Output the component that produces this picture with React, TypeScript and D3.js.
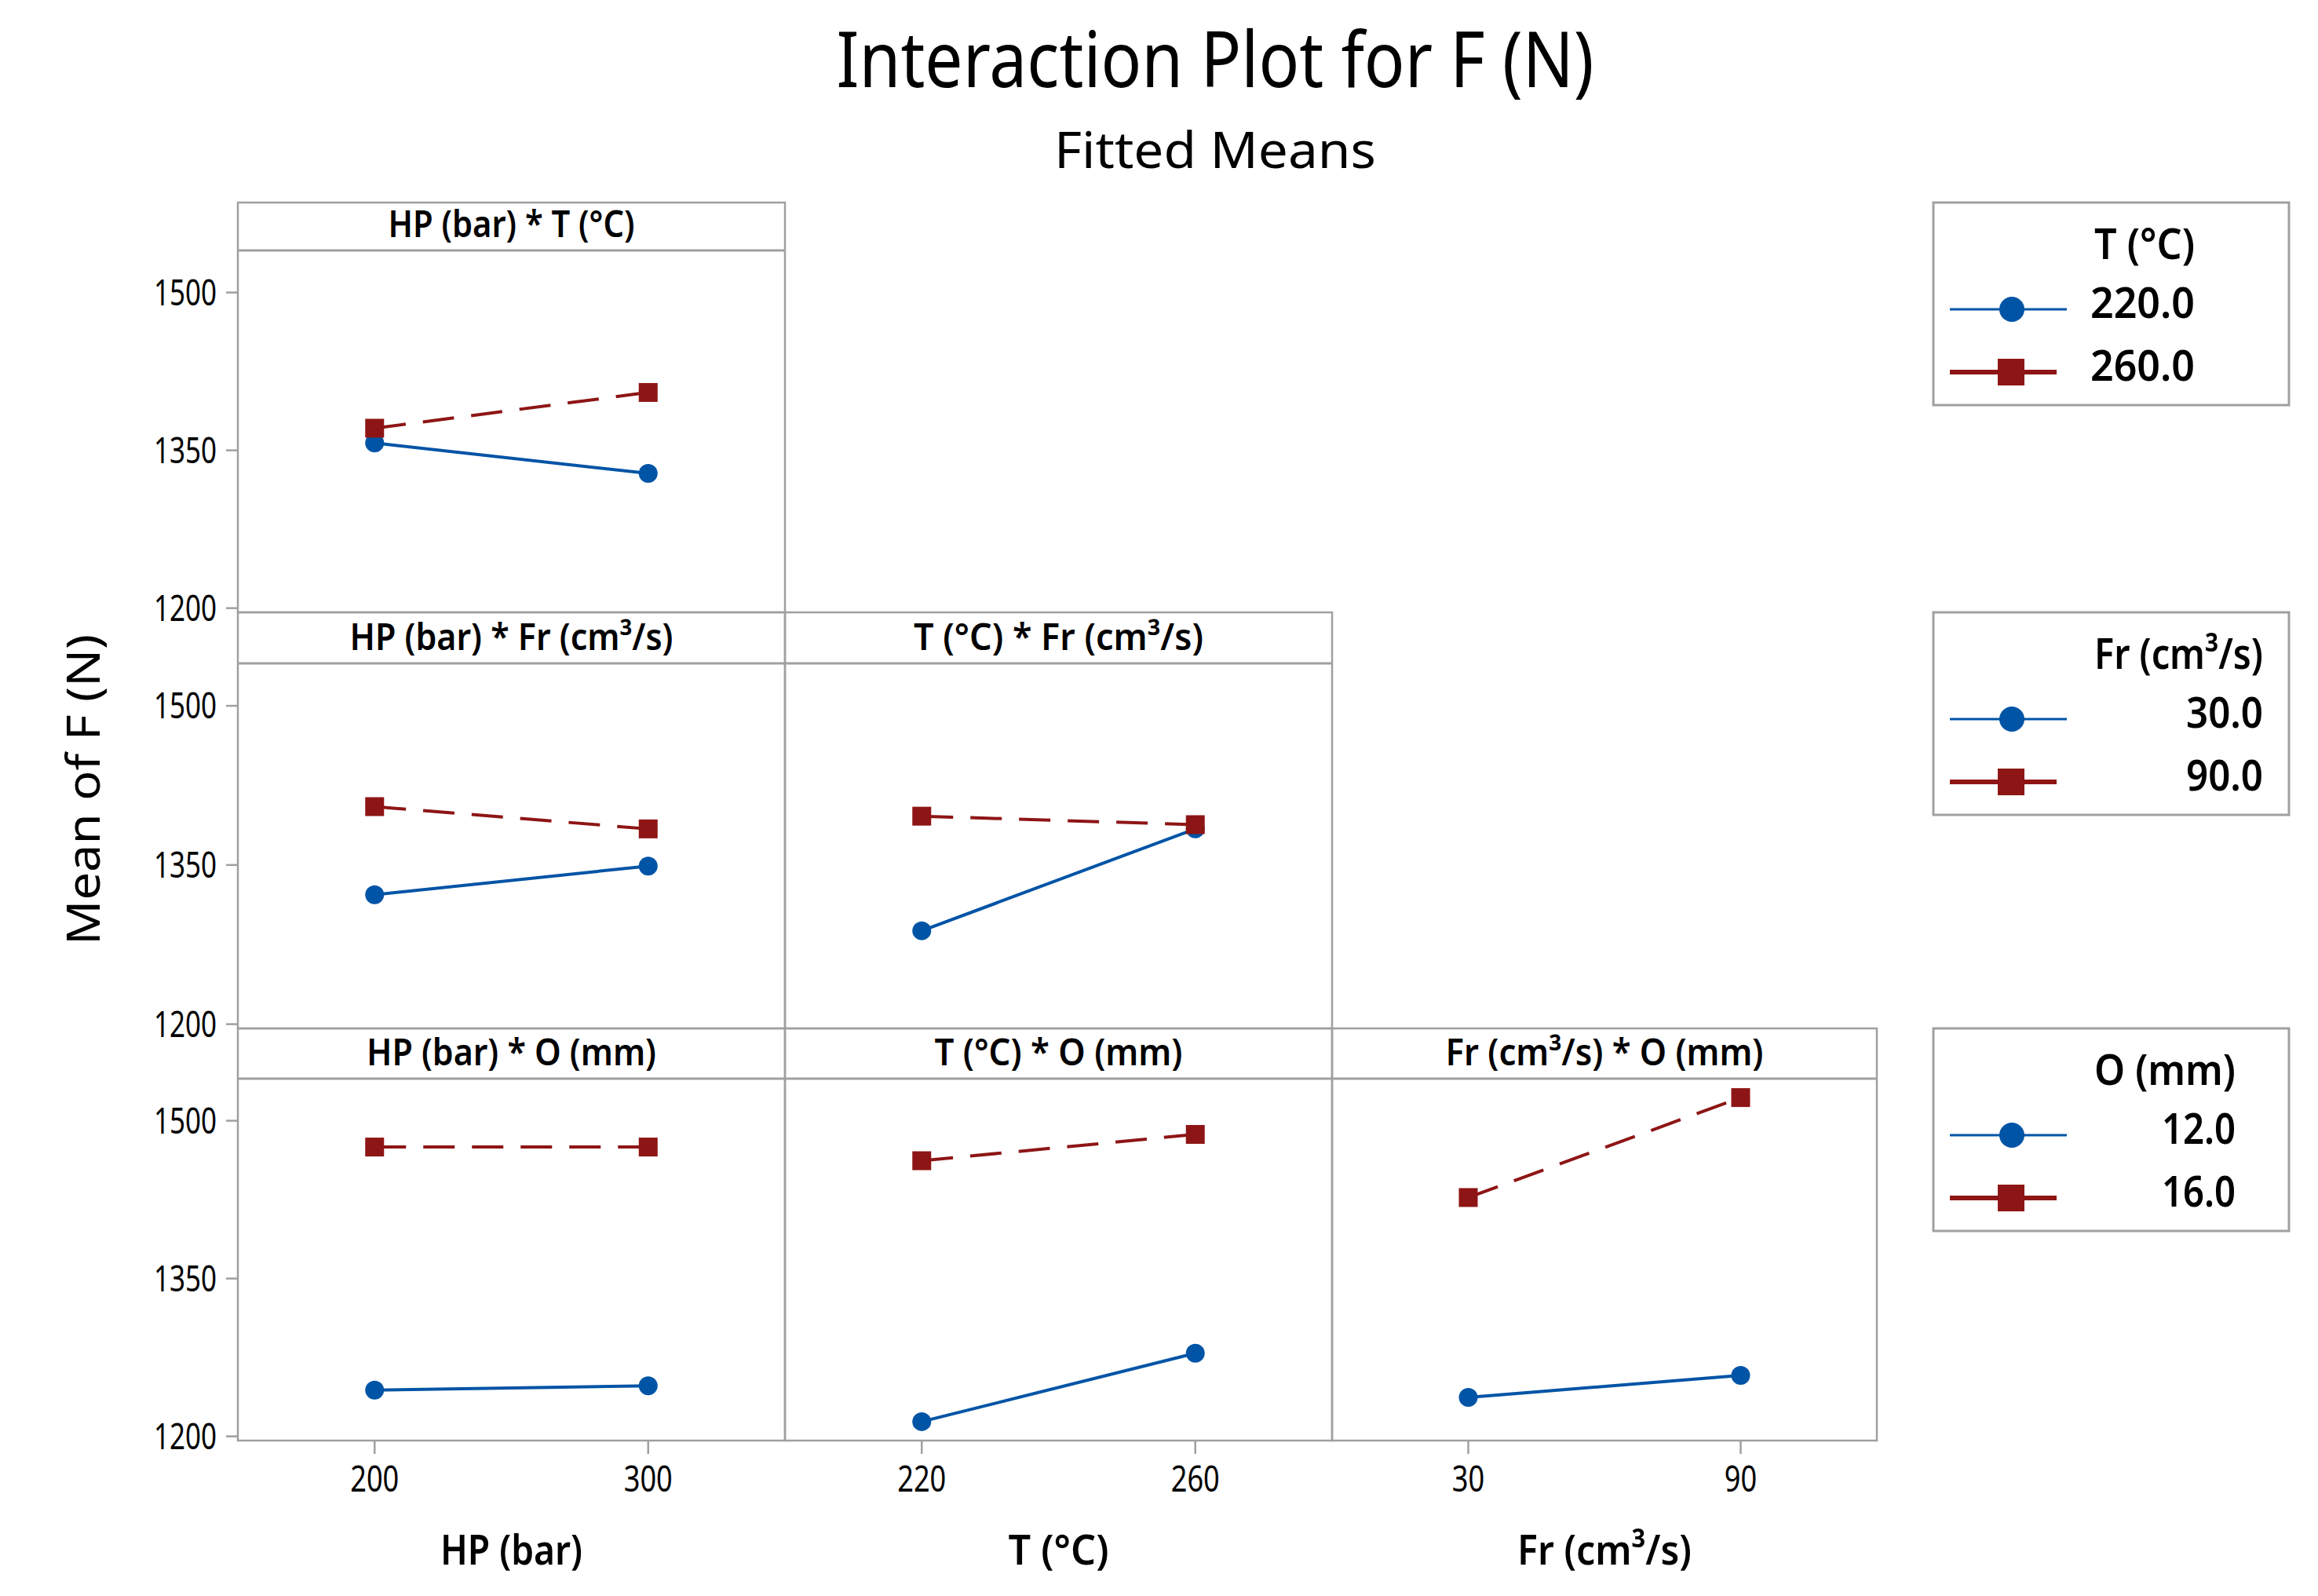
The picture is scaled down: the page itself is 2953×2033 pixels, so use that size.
import * as d3 from "d3";
import React, { useEffect } from "react";

// Factor levels (x-axis of each column / trace factor of each row)
const hpLevels = [200, 300];
const tLevels = [220, 260];
const frLevels = [30, 90];
const oLevels = [12, 16];

// Fitted means
// Row 1: HP * T
const hpT_220 = [1357, 1328];
const hpT_260 = [1371, 1405];
// Row 2: HP * Fr, T * Fr
const hpFr_30 = [1322, 1349];
const hpFr_90 = [1405, 1384];
const tFr_30 = [1288, 1384];
const tFr_90 = [1396, 1388];
// Row 3: HP * O, T * O, Fr * O
const hpO_12 = [1244, 1248];
const hpO_16 = [1475, 1475];
const tO_12 = [1214, 1279];
const tO_16 = [1462, 1487];
const frO_12 = [1237, 1258];
const frO_16 = [1427, 1522];

const yTicks = [1200, 1350, 1500];
const yDomain = [1196, 1540];

const xAxisTitles = ["HP (bar)", "T (°C)", "Fr (cm³/s)"];
const panelTitles = [
  ["HP (bar) * T (°C)"],
  ["HP (bar) *  Fr (cm³/s)", "T (°C) * Fr  (cm³/s)"],
  ["HP (bar) * O (mm)", "T (°C) * O (mm)", "Fr (cm³/s) * O (mm)"],
];
const legendTitles = ["T (°C)", "Fr (cm³/s)", "O (mm)"];
const legendLabels = [
  ["220.0", "260.0"],
  ["30.0", "90.0"],
  ["12.0", "16.0"],
];

const W = 2953;
const H = 2033;
const BLUE = "#0054a6";
const RED = "#8e1515";
const GRID = "#a0a0a0";
const FONT = "'Noto Sans', 'Open Sans', sans-serif";

const colEdges = [303, 1000, 1697, 2391];
const rowBoxes = [
  { top: 258, hdr: 319, bottom: 780 },
  { top: 780, hdr: 845, bottom: 1310 },
  { top: 1310, hdr: 1374, bottom: 1835 },
];
const xLevels = [hpLevels, tLevels, frLevels];

// series per panel [row][col] -> [low trace level, high trace level]
const panelSeries = [
  [[hpT_220, hpT_260]],
  [
    [hpFr_30, hpFr_90],
    [tFr_30, tFr_90],
  ],
  [
    [hpO_12, hpO_16],
    [tO_12, tO_16],
    [frO_12, frO_16],
  ],
];

// text widths that give the narrow look of the original font
const panelTitleLen = [[314], [412, 369], [369, 316, 405]];
const xTitleLen = [181, 128, 222];
const legendTitleLen = [128, 215, 180];
const legendLabelLen = [
  [133, 133],
  [98, 98],
  [94, 94],
];

const Txt = ({ x, y, size, anchor = "middle", weight = 400, len, children, transform }: any) => (
  <text
    x={x}
    y={y}
    fontSize={size}
    fontFamily={FONT}
    fontWeight={weight}
    textAnchor={anchor}
    textLength={len}
    lengthAdjust={len ? "spacingAndGlyphs" : undefined}
    transform={transform}
    fill="#000"
  >
    {children}
  </text>
);

const Panel = ({ r, c }: { r: number; c: number }) => {
  const box = rowBoxes[r];
  const x0 = colEdges[c];
  const x1 = colEdges[c + 1];
  const x = d3.scalePoint<number>().domain(xLevels[c]).range([x0, x1]).padding(0.5);
  const y = d3.scaleLinear().domain(yDomain).range([box.bottom, box.hdr]);
  const [low, high] = panelSeries[r][c];
  const line = d3
    .line<number>()
    .x((_, i) => x(xLevels[c][i]) as number)
    .y((d) => y(d));
  return (
    <g>
      <rect x={x0} y={box.top} width={x1 - x0} height={box.bottom - box.top} fill="none" stroke={GRID} strokeWidth={2.5} />
      <line x1={x0} x2={x1} y1={box.hdr} y2={box.hdr} stroke={GRID} strokeWidth={3} />
      <Txt x={(x0 + x1) / 2} y={box.hdr - 17} size={46} weight={600} len={panelTitleLen[r][c]}>
        {panelTitles[r][c]}
      </Txt>
      <path d={line(low) as string} fill="none" stroke={BLUE} strokeWidth={4} />
      {low.map((v, i) => (
        <circle key={"b" + i} cx={x(xLevels[c][i])} cy={y(v)} r={12} fill={BLUE} />
      ))}
      <path d={line(high) as string} fill="none" stroke={RED} strokeWidth={4} strokeDasharray="40 22" />
      {high.map((v, i) => (
        <rect key={"r" + i} x={(x(xLevels[c][i]) as number) - 12} y={y(v) - 12} width={24} height={24} fill={RED} />
      ))}
    </g>
  );
};

const Legend = ({ k }: { k: number }) => {
  const top = rowBoxes[k].top;
  const left = 2463;
  const right = 2916;
  const titleX = left + 205;
  const valueX = titleX + legendTitleLen[k];
  const yBlue = top + 136;
  const yRed = top + 216;
  return (
    <g>
      <rect x={left} y={top} width={right - left} height={258} fill="none" stroke={GRID} strokeWidth={3} />
      <Txt x={titleX} y={top + 72} size={55} anchor="start" weight={600} len={legendTitleLen[k]}>
        {legendTitles[k]}
      </Txt>
      <line x1={left + 21} x2={left + 170} y1={yBlue} y2={yBlue} stroke={BLUE} strokeWidth={3} />
      <circle cx={left + 100} cy={yBlue} r={16} fill={BLUE} />
      <line x1={left + 21} x2={left + 157} y1={yRed} y2={yRed} stroke={RED} strokeWidth={6} />
      <rect x={left + 82} y={yRed - 17} width={34} height={34} fill={RED} />
      <Txt x={valueX} y={yBlue + 11} size={55} anchor="end" weight={600} len={legendLabelLen[k][0]}>
        {legendLabels[k][0]}
      </Txt>
      <Txt x={valueX} y={yRed + 11} size={55} anchor="end" weight={600} len={legendLabelLen[k][1]}>
        {legendLabels[k][1]}
      </Txt>
    </g>
  );
};

const App = () => {
  useEffect(() => {
    document.body.style.margin = "0";
  }, []);

  const cells: [number, number][] = [];
  rowBoxes.forEach((_, r) => {
    for (let c = 0; c <= r; c++) cells.push([r, c]);
  });

  return (
    <svg width={W} height={H} style={{ display: "block", background: "#fff" }}>
      <rect width={W} height={H} fill="#fff" />
      <Txt x={1548} y={111} size={99} len={965}>
        Interaction Plot for F (N)
      </Txt>
      <Txt x={1548} y={214} size={64} len={410}>
        Fitted Means
      </Txt>

      {cells.map(([r, c]) => (
        <Panel key={`${r}-${c}`} r={r} c={c} />
      ))}

      {/* y ticks on the left of every row */}
      {rowBoxes.map((box, r) => {
        const y = d3.scaleLinear().domain(yDomain).range([box.bottom, box.hdr]);
        return (
          <g key={"yt" + r}>
            {yTicks.map((t) => (
              <g key={t}>
                <line x1={288} x2={colEdges[0]} y1={y(t)} y2={y(t)} stroke={GRID} strokeWidth={2.5} />
                <Txt x={276} y={y(t) + 16} size={45} anchor="end" len={80}>
                  {t}
                </Txt>
              </g>
            ))}
          </g>
        );
      })}

      {/* x ticks under the bottom row */}
      {xLevels.map((levels, c) => {
        const x = d3.scalePoint<number>().domain(levels).range([colEdges[c], colEdges[c + 1]]).padding(0.5);
        return (
          <g key={"xt" + c}>
            {levels.map((l) => (
              <g key={l}>
                <line x1={x(l)} x2={x(l)} y1={rowBoxes[2].bottom} y2={rowBoxes[2].bottom + 17} stroke={GRID} strokeWidth={2.5} />
                <Txt x={x(l)} y={1900} size={45} len={String(l).length * 20.7}>
                  {l}
                </Txt>
              </g>
            ))}
            <Txt x={(colEdges[c] + colEdges[c + 1]) / 2} y={1993} size={53} weight={600} len={xTitleLen[c]}>
              {xAxisTitles[c]}
            </Txt>
          </g>
        );
      })}

      <Txt x={0} y={0} size={58} len={396} transform="translate(127,1006) rotate(-90)">
        Mean of F (N)
      </Txt>

      {[0, 1, 2].map((k) => (
        <Legend key={k} k={k} />
      ))}
    </svg>
  );
};

export default App;
